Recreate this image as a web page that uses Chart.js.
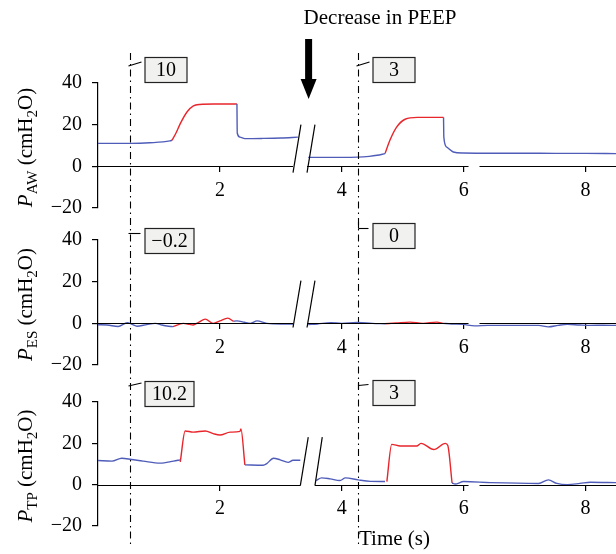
<!DOCTYPE html>
<html><head><meta charset="utf-8">
<script src="https://cdn.jsdelivr.net/npm/chart.js@4.4.1/dist/chart.umd.min.js"></script>
<style>
html,body{margin:0;padding:0;background:#fff;}
#wrap{position:relative;width:616px;height:554px;overflow:hidden;background:#fff;}
canvas{position:absolute;left:0;top:0;}
</style></head><body>
<div id="wrap">
<canvas id="cAW" width="616" height="554"></canvas>
<canvas id="cES" width="616" height="554"></canvas>
<canvas id="cTP" width="616" height="554"></canvas>
</div>
<script>
// ---------- DATA ----------
const xTickValues = [2, 4, 6, 8];
const yTickValues = [-20, 0, 20, 40];
const markTimes = [0.525, 4.27];          // dash-dot reference lines (s)
const arrowTime = 3.456;                  // "Decrease in PEEP" arrow (s)

// Airway pressure P_AW  [time (s), cmH2O]; null = gap
const awBlue = [[0,11],[0.53,11],[0.85,11.3],[1.18,12.2],[1.215,12.5],[1.7,null],
  [2.28,29.9],[2.285,16],[2.33,14],[2.41,13.3],[2.7,13.4],[3.0,13.6],[3.28,14],[3.36,null],
  [3.45,4.3],[3.8,4.3],[4.0,4.3],[4.25,4.4],[4.45,4.8],[4.58,5.3],[4.71,6.1],[5.2,null],
  [5.67,23.5],[5.675,14],[5.72,9.3],[5.83,6.9],[5.99,6.4],[6.5,6.3],[7.0,6.3],[7.5,6.2],[8.0,6.2],[8.5,6.1]];
const awRed = [[1.215,12.5],[1.28,16],[1.35,20.5],[1.46,26.1],[1.565,29],[1.67,29.7],[1.9,29.9],[2.28,29.9],[3.0,null],
  [4.71,6.1],[4.79,12.5],[4.9,18.8],[5.04,22.6],[5.24,23.5],[5.67,23.5]];
const awMarkers = ['10', '3'];

// Oesophageal pressure P_ES
const esBlue = [[0,-0.7],[0.15,-0.8],[0.33,-1.5],[0.48,0.3],[0.56,-0.5],[0.64,-1.4],[0.8,-0.6],[0.94,0],[1.05,-0.8],[1.13,-1.3],[1.23,-1.6],[1.7,null],
  [2.22,1],[2.28,1.2],[2.4,0.5],[2.5,0],[2.61,1.2],[2.77,0],[3.0,-0.3],[3.2,-0.3],[3.33,null],
  [3.45,-0.6],[3.6,-0.3],[3.82,0.3],[4.0,0],[4.25,0.4],[4.5,0],[4.71,-0.2],[5.2,null],
  [5.66,0],[5.8,-0.3],[5.99,-0.5],[6.18,-1.2],[6.4,-1],[6.8,-1],[7.23,-1],[7.39,-1.7],[7.55,-1],[7.7,-0.5],[7.9,-0.8],[8.08,-1],[8.3,-0.9],[8.5,-1]];
const esRed = [[1.23,-1.6],[1.4,0],[1.5,-0.5],[1.56,-0.8],[1.65,0.5],[1.76,2],[1.89,0],[2.0,1.2],[2.13,2.5],[2.22,1],[2.5,null],
  [4.71,-0.2],[4.9,0.2],[5.12,0.6],[5.33,0],[5.56,0.6],[5.66,0]];
const esMarkers = ['\u22120.2', '0'];

// Transpulmonary pressure P_TP
const tpBlue = [[0,11.7],[0.23,11.4],[0.39,12.8],[0.55,12.2],[0.74,11.4],[1.02,10.4],[1.24,11.4],[1.35,12],[1.9,null],
  [2.41,9.6],[2.71,9.4],[2.77,10.2],[2.88,12.8],[2.99,12],[3.12,10.8],[3.2,11.8],[3.32,11.8],[3.45,null],
  [3.58,2],[3.67,3.3],[3.81,2.8],[3.97,2],[4.06,3.3],[4.27,2.3],[4.47,1.6],[4.71,1.5],[5.2,null],
  [5.81,0.8],[5.86,0.3],[6.0,1.5],[6.44,1],[7.23,0.6],[7.39,2.3],[7.53,0.6],[7.7,0],[7.91,0.6],[8.08,1.2],[8.5,1]];
const tpRed = [[1.35,11],[1.43,26],[1.56,25.4],[1.76,26],[1.89,24.7],[2.0,24],[2.17,25.4],[2.33,25.8],[2.345,27],[2.41,9.6],[3.0,null],
  [4.74,1.5],[4.82,19.5],[4.96,18.7],[5.23,18.7],[5.3,20],[5.51,17],[5.7,20],[5.74,19],[5.81,0.8]];
const tpMarkers = ['10.2', '3'];

// ---------- STYLE / LAYOUT ----------
const FF = "'Liberation Serif','DejaVu Serif',serif";
Chart.defaults.font.family = FF;
Chart.defaults.color = '#000';
const BLUE = '#4f5db9', RED = '#e8252b';

const panels = [
  {id:'cAW', sub:'AW', blue:awBlue, red:awRed, markers:awMarkers, padTop:83, padBottom:554-208,
   breaks:[[3.20,-3,3.33,20],[3.43,-3,3.56,20]], axisSegs:[[0,3.20],[3.43,6.08],[6.26,8.6]],
   boxes:[{top:57,w:42,leader:'slant'},{top:57,w:42,leader:'slant'}], first:true},
  {id:'cES', sub:'ES', blue:esBlue, red:esRed, markers:esMarkers, padTop:240, padBottom:554-365,
   breaks:[[3.20,-2,3.33,20.5],[3.43,-2,3.56,20.5]], axisSegs:[[0,3.20],[3.43,6.08],[6.26,8.6]],
   boxes:[{top:228,w:49,leader:'dash'},{top:223,w:42,leader:'L'}]},
  {id:'cTP', sub:'TP', blue:tpBlue, red:tpRed, markers:tpMarkers, padTop:402, padBottom:554-526,
   breaks:[[3.32,-0.5,3.45,23],[3.56,-0.5,3.68,23]], axisSegs:[[0,3.32],[3.56,6.08],[6.26,8.6]],
   boxes:[{top:381,w:49,leader:'slantLow'},{top:380,w:42,leader:'T'}], last:true}
];

function pts(arr){ return arr.map(([t,v]) => ({x:t, y:v})); }

function line(ctx, x0, y0, x1, y1){ ctx.beginPath(); ctx.moveTo(x0,y0); ctx.lineTo(x1,y1); ctx.stroke(); }

function drawYLabel(ctx, cx, cy, sub){
  ctx.save();
  ctx.translate(cx, cy); ctx.rotate(-Math.PI/2);
  const big = '21px ' + FF, it = 'italic 21px ' + FF, small = '15px ' + FF;
  const parts = [[it,'P',0],[small,sub,5],[big,' (cmH',0],[small,'2',5],[big,'O)',0]];
  let w = 0;
  parts.forEach(([f,t]) => { ctx.font = f; w += ctx.measureText(t).width; });
  let x = -w/2;
  ctx.fillStyle = '#000'; ctx.textBaseline = 'alphabetic'; ctx.textAlign = 'left';
  parts.forEach(([f,t,dy]) => { ctx.font = f; ctx.fillText(t, x, dy); x += ctx.measureText(t).width; });
  ctx.restore();
}

const overlayPlugin = {
  id: 'overlay',
  afterDraw(chart, args, opts){
    const p = opts.panel, ctx = chart.ctx, xs = chart.scales.x, ys = chart.scales.y;
    const ca = chart.chartArea;
    ctx.save();
    ctx.strokeStyle = '#000'; ctx.fillStyle = '#000'; ctx.lineWidth = 1.2;
    // broken x axis line at y = 0
    const y0 = Math.round(ys.getPixelForValue(0)) + 0.5;
    p.axisSegs.forEach(([a,b]) => line(ctx, xs.getPixelForValue(a), y0, Math.min(xs.getPixelForValue(b), 616), y0));
    // break marks
    p.breaks.forEach(([t0,v0,t1,v1]) => line(ctx, xs.getPixelForValue(t0), ys.getPixelForValue(v0), xs.getPixelForValue(t1), ys.getPixelForValue(v1)));
    // y-axis title
    drawYLabel(ctx, 32, (ca.top + ca.bottom)/2 + 2, p.sub);
    // marker boxes with leaders
    markTimes.forEach((mt, i) => {
      const vx = Math.round(xs.getPixelForValue(mt)) + 0.5;
      const b = p.boxes[i];
      const bx = vx + 14.5, by = b.top + 0.5, bw = b.w, bh = 25;
      ctx.fillStyle = '#f1f1f0'; ctx.strokeStyle = '#222'; ctx.lineWidth = 1.2;
      ctx.fillRect(bx, by, bw, bh); ctx.strokeRect(bx, by, bw, bh);
      ctx.fillStyle = '#000';
      ctx.font = '20px ' + FF; ctx.textAlign = 'center'; ctx.textBaseline = 'middle';
      ctx.fillText(p.markers[i], bx + bw/2, by + bh/2 + 1);
      ctx.strokeStyle = '#000'; ctx.lineWidth = 1.1;
      const t = b.top;
      if (b.leader === 'slant') line(ctx, vx-2, t+9, vx+11, t+5);
      else if (b.leader === 'slantLow') line(ctx, vx-2, t+5, vx+11, t+2);
      else if (b.leader === 'dash') { line(ctx, vx-2, t+5.5, vx+10, t+5.5); }
      else if (b.leader === 'L') { line(ctx, vx, t-1, vx, t+5.5); line(ctx, vx, t+5.5, vx+10, t+5.5); }
      else if (b.leader === 'T') { line(ctx, vx, t+2, vx, t+9); line(ctx, vx, t+5.5, vx+10, t+4.5); }
    });
    if (p.first) {
      // dash-dot reference lines across all panels
      ctx.strokeStyle = '#000'; ctx.lineWidth = 1.1; ctx.setLineDash([7,4,1.5,4]);
      markTimes.forEach(mt => { const vx = Math.round(xs.getPixelForValue(mt)) + 0.5; line(ctx, vx, 53, vx, 548); });
      ctx.setLineDash([]);
      // arrow
      const ax = xs.getPixelForValue(arrowTime);
      ctx.fillStyle = '#000';
      ctx.fillRect(ax - 3.5, 39, 7, 42);
      ctx.beginPath(); ctx.moveTo(ax - 8, 79); ctx.lineTo(ax + 8, 79); ctx.lineTo(ax, 99); ctx.closePath(); ctx.fill();
      ctx.font = '21px ' + FF; ctx.textAlign = 'center'; ctx.textBaseline = 'alphabetic';
      ctx.fillText('Decrease in PEEP', 380, 24);
    }
    if (p.last) {
      ctx.fillStyle = '#000';
      ctx.font = '21px ' + FF; ctx.textAlign = 'left'; ctx.textBaseline = 'alphabetic';
      ctx.fillText('Time (s)', 359, 545);
    }
    ctx.restore();
  }
};

function makeChart(p){
  return new Chart(document.getElementById(p.id), {
    type: 'line',
    data: { datasets: [
      {data: pts(p.blue), borderColor: BLUE, borderWidth: 1.4, pointRadius: 0, cubicInterpolationMode: 'monotone', spanGaps: false, fill: false},
      {data: pts(p.red), borderColor: RED, borderWidth: 1.4, pointRadius: 0, cubicInterpolationMode: 'monotone', spanGaps: false, fill: false}
    ]},
    options: {
      responsive: false, animation: false, events: [],
      layout: {padding: {top: p.padTop, bottom: p.padBottom, left: 0, right: 0}},
      plugins: {legend: {display: false}, tooltip: {enabled: false}, overlay: {panel: p}},
      scales: {
        x: {type: 'linear', min: 0, max: 8.5, position: {y: 0},
            afterBuildTicks: s => { s.ticks = xTickValues.map(v => ({value: v})); },
            grid: {drawOnChartArea: false, drawTicks: true, tickLength: 6, color: '#000', lineWidth: 1.2},
            border: {display: false},
            ticks: {font: {size: 20}, padding: 6, color: '#000', maxRotation: 0, autoSkip: false}},
        y: {type: 'linear', min: -20, max: 40, position: 'left',
            afterFit: s => { s.width = 98; },
            afterBuildTicks: s => { s.ticks = yTickValues.map(v => ({value: v})); },
            grid: {drawOnChartArea: false, drawTicks: true, tickLength: 6, color: '#000', lineWidth: 1.2},
            border: {display: true, color: '#000', width: 1.2},
            ticks: {font: {size: 20}, padding: 10, color: '#000',
                    callback: v => v < 0 ? '\u2212' + Math.abs(v) : String(v)}}
      }
    },
    plugins: [overlayPlugin]
  });
}
panels.forEach(makeChart);
</script>
</body></html>
